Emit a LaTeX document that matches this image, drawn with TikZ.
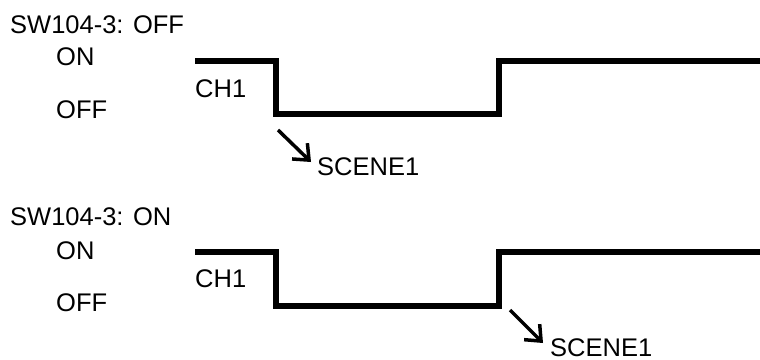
\documentclass[tikz,border=0pt]{standalone}
\usepackage{fontspec}
\setmainfont{Liberation Sans}
\usetikzlibrary{arrows.meta}
\begin{document}
\begin{tikzpicture}[x=1pt,y=-1pt,
  lbl/.style={anchor=base west,inner sep=0pt,font=\fontsize{25.5}{30}\selectfont},
  wave/.style={line width=5.5pt,line join=miter},
  trig/.style={line width=3.5pt,-{Straight Barb[length=13pt,width=22pt,line width=3.5pt]}}]
\useasboundingbox (0,0) rectangle (760,359);
% top
\node[lbl] (t1) at (10,33) {SW104-3: OFF};
\node[lbl] (on1) at (56,65) {ON};
\node[lbl] (off1) at (56,118) {OFF};
\node[lbl] (ch1) at (195,97) {CH1};
\node[lbl] (sc1) at (317,175) {SCENE1};
\draw[wave] (195,61) -- (276,61) -- (276,114) -- (499,114) -- (499,61) -- (762,61);
\coordinate (a1s) at (278,130);
\coordinate (a1e) at (311,162);
\draw[trig] (a1s) -- (a1e);
% bottom
\node[lbl] (t2) at (10,225) {SW104-3: ON};
\node[lbl] (on2) at (56,259) {ON};
\node[lbl] (off2) at (56,311) {OFF};
\node[lbl] (ch2) at (195,287) {CH1};
\node[lbl] (sc2) at (550,356) {SCENE1};
\draw[wave] (195,252) -- (276,252) -- (276,306) -- (499,306) -- (499,252) -- (762,252);
\coordinate (a2s) at (510,310);
\coordinate (a2e) at (543,343);
\draw[trig] (a2s) -- (a2e);
\end{tikzpicture}
\end{document}
